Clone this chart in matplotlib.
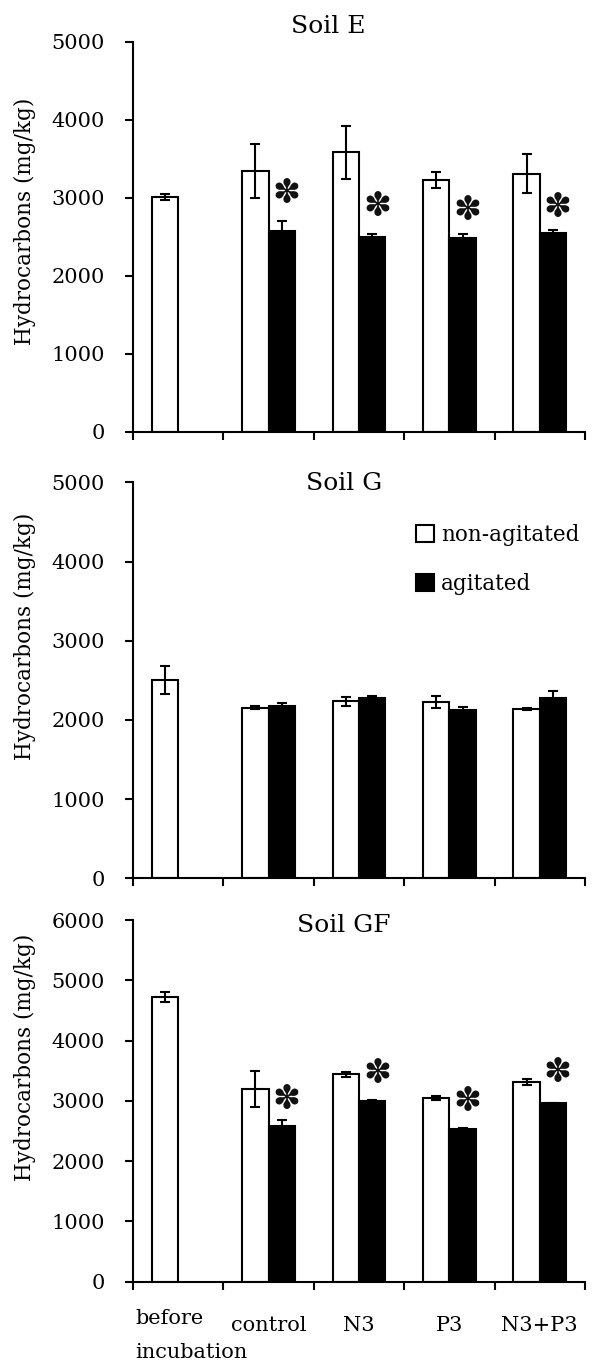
import numpy as np
import matplotlib
matplotlib.use("Agg")
import matplotlib.pyplot as plt
from matplotlib.patches import Patch
from matplotlib.transforms import blended_transform_factory

plt.rcParams['font.family'] = ['DejaVu Serif']

# Categorías del eje x
categories = ["before\nincubation", "control", "N3", "P3", "N3+P3"]
series_names = ["non-agitated", "agitated"]
nan = np.nan

# Soil E
soil_e_non = [3010, 3345, 3580, 3225, 3310]
soil_e_non_err = [40, 345, 345, 105, 245]
soil_e_agi = [nan, 2575, 2500, 2485, 2545]
soil_e_agi_err = [nan, 120, 30, 45, 40]
soil_e_star = [nan, 3060, 2885, 2835, 2875]

# Soil G
soil_g_non = [2500, 2155, 2235, 2225, 2135]
soil_g_non_err = [175, 15, 60, 75, 10]
soil_g_agi = [nan, 2175, 2275, 2125, 2280]
soil_g_agi_err = [nan, 40, 30, 40, 85]
soil_g_star = [nan, nan, nan, nan, nan]

# Soil GF
soil_gf_non = [4725, 3195, 3440, 3050, 3305]
soil_gf_non_err = [85, 305, 40, 35, 50]
soil_gf_agi = [nan, 2585, 3005, 2535, 2960]
soil_gf_agi_err = [nan, 100, 10, 20, 10]
soil_gf_star = [nan, 3030, 3455, 2990, 3470]

panels = [
    ("Soil E", soil_e_non, soil_e_non_err, soil_e_agi, soil_e_agi_err, soil_e_star, 5000),
    ("Soil G", soil_g_non, soil_g_non_err, soil_g_agi, soil_g_agi_err, soil_g_star, 5000),
    ("Soil GF", soil_gf_non, soil_gf_non_err, soil_gf_agi, soil_gf_agi_err, soil_gf_star, 6000),
]

W, H = 594, 1364
fig = plt.figure(figsize=(W / 100, H / 100), dpi=100)

# posiciones de los ejes en pixeles (izq, arriba, der, abajo)
boxes = [(133, 41.7, 585, 431.7), (133, 482.3, 585, 878.3), (133, 920, 585, 1281.7)]
title_pos = [(0.431, 1.038), (0.467, 0.996), (0.467, 0.986)]
ylabel_y = [0.54, 0.61, 0.62]

bw = 0.293
x = np.arange(len(categories))
lw = 1.5

for k, (name, non, non_err, agi, agi_err, star, ymax) in enumerate(panels):
    l, t, r, b = boxes[k]
    ax = fig.add_axes([l / W, 1 - b / H, (r - l) / W, (b - t) / H])

    agi = np.array(agi, dtype=float)
    agi_err = np.array(agi_err, dtype=float)
    m = ~np.isnan(agi)

    ax.bar(x - bw / 2, non, bw, color='white', edgecolor='black', linewidth=lw, zorder=2)
    ax.bar(x[m] + bw / 2, agi[m], bw, color='black', edgecolor='black', linewidth=lw, zorder=2)
    ax.errorbar(x - bw / 2, non, yerr=non_err, fmt='none', ecolor='black',
                elinewidth=lw, capsize=3.5, capthick=lw, zorder=3)
    ax.errorbar(x[m] + bw / 2, agi[m], yerr=agi_err[m], fmt='none', ecolor='black',
                elinewidth=lw, capsize=3.5, capthick=lw, zorder=3)

    # asteriscos de significancia
    star = np.array(star, dtype=float)
    for i in range(len(categories)):
        if not np.isnan(star[i]):
            ax.text(i + 0.2, star[i], "\u273d", family=['DejaVu Sans'], fontsize=24,
                    ha='center', va='center', color='#111111', zorder=4)

    ax.set_xlim(-0.5, len(categories) - 0.5)
    ax.set_ylim(0, ymax)
    ax.set_yticks(np.arange(0, ymax + 1, 1000))
    ax.set_xticks(np.arange(-0.5, len(categories), 1.0))
    ax.set_xticklabels([])
    ax.tick_params(axis='y', direction='out', length=5.5, width=lw, labelsize=15, pad=15)
    ax.tick_params(axis='x', direction='out', length=5.5, width=lw)
    for s in ['top', 'right']:
        ax.spines[s].set_visible(False)
    for s in ['left', 'bottom']:
        ax.spines[s].set_linewidth(lw)

    ax.set_ylabel("Hydrocarbons (mg/kg)", fontsize=15.5)
    ax.yaxis.set_label_coords(-0.215, ylabel_y[k])
    ax.text(title_pos[k][0], title_pos[k][1], name, transform=ax.transAxes,
            fontsize=18, ha='center', va='center')

    if k == 1:
        handles = [Patch(facecolor='white', edgecolor='black', linewidth=lw),
                   Patch(facecolor='black', edgecolor='black', linewidth=lw)]
        ax.legend(handles, series_names, loc='upper left', bbox_to_anchor=(0.625, 0.895),
                  frameon=False, fontsize=15.5, handlelength=0.85, handleheight=0.85,
                  handletextpad=0.35, labelspacing=1.25, borderpad=0, borderaxespad=0)

    if k == 2:
        tr = blended_transform_factory(ax.transData, ax.transAxes)
        for i, lab in enumerate(categories):
            if i == 0:
                # etiqueta de dos líneas alineada a la izquierda
                for j, part in enumerate(lab.split("\n")):
                    ax.text(-0.47, -0.103 - 0.094 * j, part, transform=tr, fontsize=15,
                            ha='left', va='center')
            else:
                ax.text(i, -0.122, lab, transform=tr, fontsize=15, ha='center', va='center')

fig.savefig("out.png", dpi=100)
